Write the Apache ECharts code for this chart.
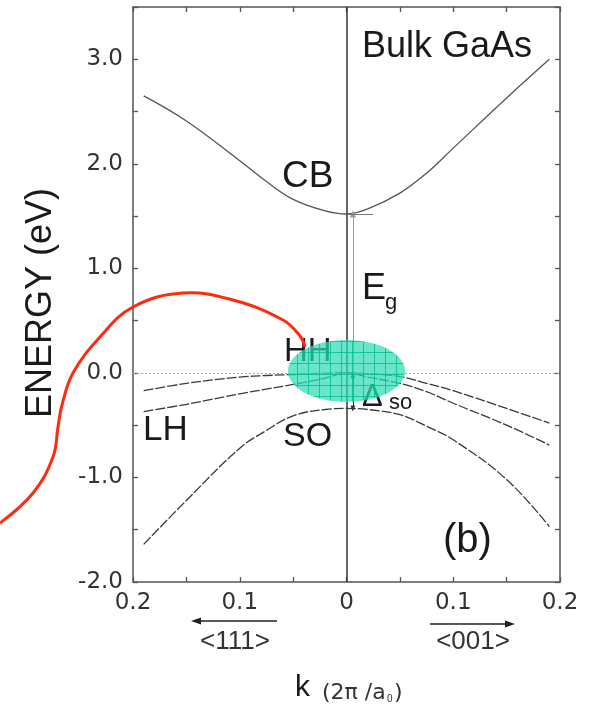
<!DOCTYPE html>
<html>
<head>
<meta charset="utf-8">
<script src="https://cdn.jsdelivr.net/npm/echarts@6/dist/echarts.min.js"></script>
<style>
  html, body { margin: 0; padding: 0; background: #fff; }
  #chart { width: 590px; height: 709px; }
</style>
</head>
<body>
<div id="chart"></div>
<script>
// Wave vector k in units of 2π/a0: negative = <111>, positive = <001>
const kGrid = [-0.19, -0.15, -0.1, -0.075, -0.05, -0.02, 0, 0.02, 0.05, 0.075, 0.1, 0.15, 0.19];

// Band energies (eV) at each k
const cbE = [2.65, 2.41, 2.03, 1.83, 1.66, 1.55, 1.52, 1.57, 1.72, 1.91, 2.15, 2.63, 3.00];
const hhE = [-0.17, -0.10, -0.04, -0.025, -0.015, -0.003, 0, -0.006, -0.035, -0.10, -0.17, -0.34, -0.48];
const lhE = [-0.37, -0.30, -0.20, -0.155, -0.11, -0.05, 0, -0.04, -0.10, -0.18, -0.29, -0.50, -0.69];
const soE = [-1.64, -1.22, -0.72, -0.55, -0.41, -0.35, -0.34, -0.35, -0.40, -0.51, -0.64, -1.02, -1.47];

// Axis tick labels
const xTickLabels = { '-0.2': '0.2', '-0.1': '0.1', '0': '0', '0.1': '0.1', '0.2': '0.2' };
const yTickLabels = { '-2': '-2.0', '-1': '-1.0', '0': '0.0', '1': '1.0', '2': '2.0', '3': '3.0' };

const i0 = kGrid.indexOf(0);
const EG = cbE[i0];          // band gap at Gamma
const SO_EDGE = soE[i0];     // split-off band edge
const kArrow = 0.006;        // arrows drawn just right of k = 0

const pairs = arr => kGrid.map((k, i) => [k, arr[i]]);

const axisColor = '#555';
const tickFont = { fontSize: 23, fontFamily: 'DejaVu Sans', color: '#333' };

// hatched fill for the highlight ellipse
const pc = document.createElement('canvas');
pc.width = 11; pc.height = 11;
const pctx = pc.getContext('2d');
pctx.fillStyle = 'rgba(45,220,180,0.72)';
pctx.fillRect(0, 0, 11, 11);
pctx.strokeStyle = 'rgba(0,190,145,0.8)';
pctx.lineWidth = 1;
pctx.beginPath();
pctx.moveTo(0.5, 0); pctx.lineTo(0.5, 11);
pctx.moveTo(0, 0.5); pctx.lineTo(11, 0.5);
pctx.stroke();

const chart = echarts.init(document.getElementById('chart'), null, { renderer: 'canvas' });

const bandLine = (name, data, dashed) => ({
  name, type: 'line', data, smooth: 0.4, symbol: 'none', silent: true,
  lineStyle: { color: dashed ? '#3a3a3a' : '#555', width: 1.3, type: dashed ? [10, 2] : 'solid' },
  z: 3
});

const mk = (text, x, y, size, extra) => ({
  type: 'text', z: 50, silent: true,
  style: Object.assign({
    text, x, y, fontSize: size, fontFamily: 'Liberation Sans', fill: '#1a1a1a',
    align: 'left', verticalAlign: 'middle'
  }, extra || {})
});

const frameAxis = (pos, isX) => ({
  type: 'value',
  min: isX ? -0.2 : -2, max: isX ? 0.2 : 3.5, interval: isX ? 0.05 : 0.5,
  position: pos,
  axisLine: { show: true, onZero: false, lineStyle: { color: axisColor, width: 1.5 } },
  axisTick: { show: true, inside: true, length: 5, lineStyle: { color: axisColor, width: 1.3 } },
  axisLabel: { show: false },
  splitLine: { show: false }
});

const xMain = frameAxis('bottom', true);
xMain.axisLabel = Object.assign({
  margin: 10,
  formatter: v => {
    const key = String(Math.round(v * 100) / 100);
    return xTickLabels[key] !== undefined ? xTickLabels[key] : '';
  }
}, tickFont);

const yMain = frameAxis('left', false);
yMain.axisLabel = Object.assign({
  margin: 10,
  formatter: v => {
    const key = String(Math.round(v * 10) / 10);
    return yTickLabels[key] !== undefined ? yTickLabels[key] : '';
  }
}, tickFont);

chart.setOption({
  animation: false,
  grid: { left: 133, right: 30, top: 7, bottom: 127, containLabel: false },
  xAxis: [xMain, frameAxis('top', true)],
  yAxis: [yMain, frameAxis('right', false)],
  series: [
    {
      name: 'ref', type: 'line', data: [], silent: true,
      markLine: {
        silent: true, animation: false, symbol: 'none',
        label: { show: false },
        data: [
          { xAxis: 0, lineStyle: { color: '#333', width: 1.5, type: 'solid' } },
          { yAxis: 0, lineStyle: { color: '#aaa', width: 1, type: [2, 2] } },
          [
            { coord: [kArrow, 0], symbol: 'none', lineStyle: { color: '#999', width: 1, type: 'solid' } },
            { coord: [kArrow, EG], symbol: 'triangle', symbolSize: [6, 7] }
          ],
          [
            { coord: [0, EG], symbol: 'none', lineStyle: { color: '#777', width: 1, type: 'solid' } },
            { coord: [0.025, EG], symbol: 'none' }
          ],
          [
            { coord: [kArrow, -0.02], symbol: 'triangle', symbolSize: [5, 6], lineStyle: { color: '#333', width: 1, type: 'solid' } },
            { coord: [kArrow, SO_EDGE], symbol: 'triangle', symbolSize: [5, 6] }
          ]
        ]
      },
      z: 2
    },
    bandLine('CB', pairs(cbE), false),
    bandLine('HH', pairs(hhE), true),
    bandLine('LH', pairs(lhE), true),
    bandLine('SO', pairs(soE), true)
  ],
  graphic: [
    // axis title (vertical)
    {
      type: 'text', z: 50, silent: true, rotation: Math.PI / 2, x: 41, y: 303,
      style: { text: 'ENERGY (eV)', fontSize: 36, fontFamily: 'Liberation Sans', fill: '#1a1a1a', align: 'center', verticalAlign: 'middle' }
    },
    // band / panel labels
    mk('Bulk GaAs', 362, 47, 36),
    mk('CB', 282, 177, 37),
    mk('HH', 284, 352, 33),
    mk('LH', 143, 430, 35),
    mk('SO', 283, 437, 34),
    mk('E', 362, 289, 36),
    mk('g', 385, 303, 22),
    mk('Δ', 362, 397, 31),
    mk('so', 389, 403, 22),
    mk('(b)', 443, 541, 40),
    // direction markers under the k axis
    { type: 'line', z: 50, silent: true, shape: { x1: 277, y1: 621, x2: 198, y2: 621 }, style: { stroke: '#222', lineWidth: 1.6 } },
    { type: 'polygon', z: 50, silent: true, shape: { points: [[191, 621], [201, 617.5], [201, 624.5]] }, style: { fill: '#222' } },
    { type: 'line', z: 50, silent: true, shape: { x1: 430, y1: 624, x2: 508, y2: 624 }, style: { stroke: '#222', lineWidth: 1.6 } },
    { type: 'polygon', z: 50, silent: true, shape: { points: [[515, 624], [505, 620.5], [505, 627.5]] }, style: { fill: '#222' } },
    mk('<111>', 235, 642, 26, { align: 'center', fill: '#333' }),
    mk('<001>', 473, 642, 26, { align: 'center', fill: '#333' }),
    // k axis title
    mk('k', 295, 688, 30),
    mk('(2π /a', 322, 693, 22, { fontFamily: 'DejaVu Sans', fill: '#333' }),
    mk('0', 387, 699, 10, { fill: '#333' }),
    mk(')', 394, 693, 22, { fontFamily: 'DejaVu Sans', fill: '#333' }),
    // highlight ellipse
    {
      type: 'ellipse', z: 60, silent: true,
      shape: { cx: 346.5, cy: 371, rx: 58.5, ry: 31 },
      style: { fill: { type: 'pattern', image: pc, repeat: 'repeat' } }
    },
    // hand-drawn red stroke
    {
      type: 'polyline', z: 70, silent: true,
      shape: {
        smooth: 0.4,
        points: [[0, 523], [33, 493], [53, 457], [58, 427], [62, 405], [73, 373], [100, 337],
                 [133, 307], [183, 293], [233, 300], [283, 320], [300, 336], [305, 347]]
      },
      style: { stroke: '#ff2a0f', lineWidth: 3, fill: null }
    }
  ]
});
</script>
</body>
</html>
